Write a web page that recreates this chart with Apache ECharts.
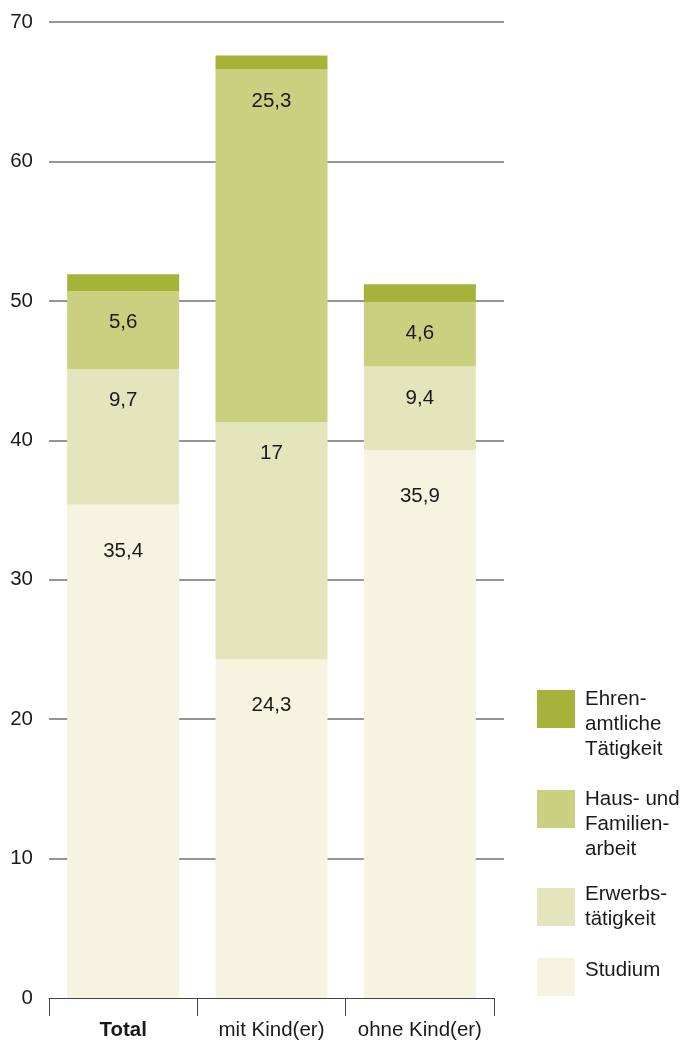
<!DOCTYPE html>
<html>
<head>
<meta charset="utf-8">
<script src="https://cdn.jsdelivr.net/npm/echarts@6/dist/echarts.min.js"></script>
<style>
html,body{margin:0;padding:0;background:#fff;}
#c{width:680px;height:1041px;}
</style>
</head>
<body>
<div id="c"></div>
<script>
const categories = ['Total', 'mit Kind(er)', 'ohne Kind(er)'];
const boldCategory = 'Total';
const seriesNames = ['Studium', 'Erwerbstätigkeit', 'Haus- und Familienarbeit', 'Ehrenamtliche Tätigkeit'];
const legendLabels = ['Studium', 'Erwerbs-\ntätigkeit', 'Haus- und\nFamilien-\narbeit', 'Ehren-\namtliche\nTätigkeit'];
const studium = [35.4, 24.3, 39.3];
const erwerb = [9.7, 17.0, 6.0];
const haus = [5.6, 25.3, 4.6];
const ehren = [1.2, 1.0, 1.3];
const studiumLabels = ['35,4', '24,3', '35,9'];
const erwerbLabels = ['9,7', '17', '9,4'];
const hausLabels = ['5,6', '25,3', '4,6'];
const yMin = 0, yMax = 70, yStep = 10;

const colors = ['#f5f4e0', '#e3e6bd', '#cbcf80', '#a6b33a'];
const FONT = '"Liberation Sans", Arial, sans-serif';
const FS = 20.5;
const txt = '#1a1a1a';

const chart = echarts.init(document.getElementById('c'), null, {renderer: 'canvas'});

function lbl(arr, dist) {
  return {
    show: !!arr, position: 'insideTop', distance: dist,
    fontFamily: FONT, fontSize: FS, color: txt,
    formatter: p => arr ? arr[p.dataIndex] : ''
  };
}

const gridColor = '#727272';
const splitColors = [];
for (let v = yMin; v <= yMax; v += yStep) splitColors.push(v === 0 ? 'rgba(0,0,0,0)' : gridColor);

// spacer: [lead, trail] heights of invisible rows that shift the text block against its square
function legendItem(idx, top, lead, trail) {
  return {
    show: true, orient: 'vertical', left: 537, top: top, padding: 0,
    data: [seriesNames[idx]], icon: 'rect', itemWidth: 38, itemHeight: 38,
    selectedMode: false,
    formatter: name => {
      let s = legendLabels[seriesNames.indexOf(name)];
      if (lead) s = '{l| }\n' + s;
      if (trail) s = s + '\n{t| }';
      return s;
    },
    textStyle: {fontFamily: FONT, fontSize: FS, color: txt, lineHeight: 25, padding: [0, 0, 0, 5],
      rich: {l: {fontSize: 1, lineHeight: lead || 1}, t: {fontSize: 1, lineHeight: trail || 1}}}
  };
}

const option = {
  animation: false,
  color: colors,
  grid: [
    {left: 49, right: 176, top: 22, bottom: 43},
    {left: 49, right: 186, top: 22, bottom: 43}
  ],
  xAxis: [
    {gridIndex: 0, type: 'category', data: categories, show: false},
    {gridIndex: 1, type: 'category', data: categories.map(c => c === boldCategory ? {value: c, textStyle: {fontWeight: 'bold'}} : c),
      axisLine: {show: true, lineStyle: {color: '#444', width: 1}},
      axisTick: {show: true, interval: 0, length: 18, lineStyle: {color: '#444', width: 1}},
      axisLabel: {interval: 0, hideOverlap: false, fontFamily: FONT, fontSize: FS, color: txt, margin: 22},
      splitLine: {show: false}
    }
  ],
  yAxis: [
    {gridIndex: 0, type: 'value', min: yMin, max: yMax, interval: yStep,
      axisLine: {show: false}, axisTick: {show: false},
      axisLabel: {fontFamily: FONT, fontSize: FS, color: txt, margin: 16},
      splitLine: {show: true, lineStyle: {color: splitColors, width: 1.5}}
    },
    {gridIndex: 1, type: 'value', min: yMin, max: yMax, interval: yStep, show: false, splitLine: {show: false}}
  ],
  legend: [
    legendItem(3, 656.5, 30, 0),
    legendItem(2, 756.5, 30, 0),
    legendItem(1, 882, 0, 0),
    legendItem(0, 957.5, 0, 14)
  ],
  series: [
    {name: seriesNames[0], type: 'bar', stack: 's', xAxisIndex: 1, yAxisIndex: 1, data: studium, barWidth: 112, label: lbl(studiumLabels, 36), itemStyle: {color: colors[0]}},
    {name: seriesNames[1], type: 'bar', stack: 's', xAxisIndex: 1, yAxisIndex: 1, data: erwerb, barWidth: 112, label: lbl(erwerbLabels, 21), itemStyle: {color: colors[1]}},
    {name: seriesNames[2], type: 'bar', stack: 's', xAxisIndex: 1, yAxisIndex: 1, data: haus, barWidth: 112, label: lbl(hausLabels, 21), itemStyle: {color: colors[2]}},
    {name: seriesNames[3], type: 'bar', stack: 's', xAxisIndex: 1, yAxisIndex: 1, data: ehren, barWidth: 112, label: lbl(null, 0), itemStyle: {color: colors[3]}}
  ]
};
chart.setOption(option);
</script>
</body>
</html>
